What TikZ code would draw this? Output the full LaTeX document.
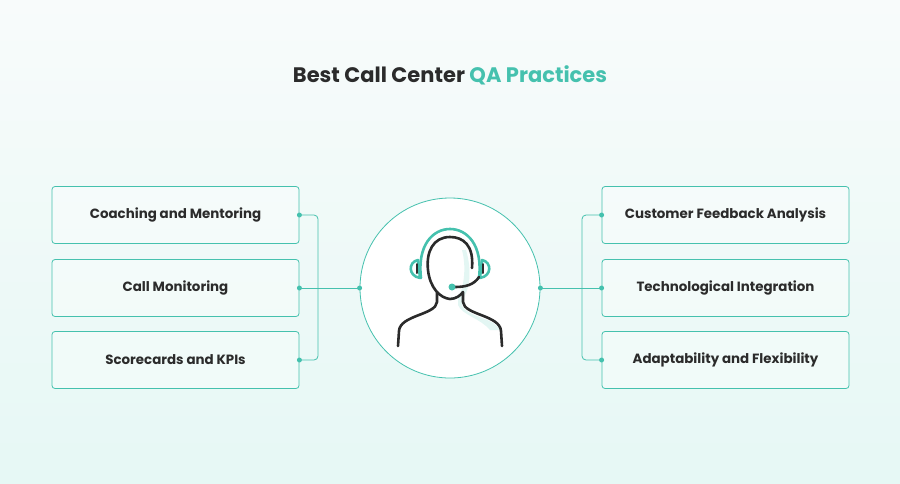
\documentclass[tikz,border=0pt]{standalone}
\usepackage{fontspec}
\setmainfont{Poppins}
\definecolor{teal}{HTML}{45C1AE}
\definecolor{ink}{HTML}{2B2B2B}
\definecolor{bgtop}{HTML}{F8FBFB}
\definecolor{bgbot}{HTML}{E6F8F5}
\begin{document}
\begin{tikzpicture}[x=1pt,y=-1pt,
  box/.style={draw=teal,line width=0.8pt,rounded corners=3pt,fill=white,fill opacity=0.35,text opacity=1,minimum width=247pt,minimum height=57pt,font=\bfseries\fontsize{13.4}{15}\selectfont,text=ink},
  link/.style={draw=teal,line width=0.8pt},
  dot/.style={circle,fill=teal,inner sep=0pt,minimum size=5pt},
  stroke/.style={line width=2.6pt,line cap=round,line join=round}]
\shade[top color=bgtop,bottom color=bgbot] (0,0) rectangle (900,483);
\useasboundingbox (0,0) rectangle (900,483);
\node[font=\bfseries\fontsize{21}{25}\selectfont,text=ink] (title) at (450,75) {Best Call Center \textcolor{teal}{QA Practices}};
\node[box] (l1) at (175.5,215) {\raisebox{-1pt}{Coaching and Mentoring}};
\node[box] (l2) at (175.5,288) {\raisebox{-1pt}{Call Monitoring}};
\node[box] (l3) at (175.5,360) {\raisebox{-1pt}{Scorecards and KPIs}};
\node[box] (r1) at (725.5,215) {\raisebox{-1pt}{Customer Feedback Analysis}};
\node[box] (r2) at (725.5,288) {\raisebox{-1pt}{Technological Integration}};
\node[box] (r3) at (725.5,360) {\raisebox{-1pt}{Adaptability and Flexibility}};
\node[circle,draw=teal,line width=0.8pt,fill=white,minimum size=180pt,inner sep=0pt] (c) at (450,288) {};
\coordinate (lj) at (318,288);
\coordinate (rj) at (582,288);
\draw[link,rounded corners=4pt] (l1.east) -| (lj) |- (l3.east);
\draw[link] (l2.east) -- (c.west);
\draw[link,rounded corners=4pt] (r1.west) -| (rj) |- (r3.west);
\draw[link] (r2.west) -- (c.east);
\foreach \n in {l1,l2,l3}{\node[dot] at (\n.east) {};}
\foreach \n in {r1,r2,r3}{\node[dot] at (\n.west) {};}
\node[dot] at (c.west) {};
\node[dot] at (c.east) {};
% icon
\fill[teal!15] (466,250) .. controls (472,270) and (470,290) .. (462,300) -- (462,306) .. controls (470,318) and (495,318) .. (500,330) -- (490,330) .. controls (480,318) and (462,315) .. (458,305) -- (458,298) .. controls (465,285) and (466,265) .. (462,250) -- cycle;
\draw[stroke,ink] (472,268) .. controls (474,245) and (463,237) .. (450,237) .. controls (433,237) and (426,252) .. (428,270) .. controls (430,288) and (440,298) .. (450,299) .. controls (456,299) and (461,295) .. (463,292);
\draw[stroke,ink] (437,292) -- (437,302) .. controls (436,315) and (400,315) .. (399,331) -- (398,346);
\draw[stroke,ink] (463,292) -- (463,302) .. controls (464,315) and (500,315) .. (501,331) -- (502,346);
\draw[stroke,teal] (421,278) .. controls (417,245) and (433,229) .. (450,229) .. controls (467,229) and (483,245) .. (479,278);
\draw[stroke,teal] (418,260) .. controls (408,262) and (408,276) .. (420,278) -- cycle;
\draw[stroke,teal] (482,260) .. controls (492,262) and (492,276) .. (480,278) -- cycle;
\draw[stroke,ink,line width=2pt] (417,264) -- (417,273);
\draw[stroke,ink,line width=2pt] (483,264) -- (483,273);
\draw[stroke,ink] (479,277) .. controls (474,285) and (465,287) .. (455,287);
\node[dot,minimum size=7pt] (mic) at (452,287) {};
\end{tikzpicture}
\end{document}
